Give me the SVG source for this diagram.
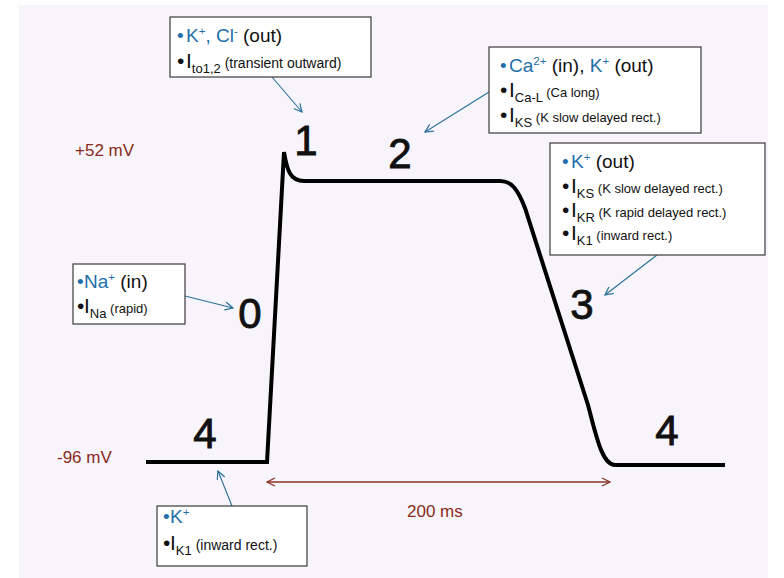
<svg xmlns="http://www.w3.org/2000/svg" width="784" height="578" viewBox="0 0 784 578">
  <defs>
    <style>
      text { font-family: "Liberation Sans", Arial, sans-serif; fill: #111; }
      .box { fill: #ffffff; stroke: #3a3a3a; stroke-width: 1.2; }
      .ion { fill: #1f6fab; }
      .big { font-size: 19px; }
      .cur { font-size: 21px; }
      .sub { font-size: 13px; }
      .sm { font-size: 13px; }
      .smw { font-size: 14px; }
      .sup { font-size: 11.5px; }
      .phase { font-size: 42px; fill: #111; stroke: #111; stroke-width: 0.9; text-anchor: middle; }
      .mv { font-size: 17px; fill: #8a2a1a; }
      .trace { fill: none; stroke: #000; stroke-width: 4; stroke-linejoin: miter; }
      .con { fill: none; stroke: #2b6f98; stroke-width: 1.1; marker-end: url(#ah); }
      .span { fill: none; stroke: #8a3424; stroke-width: 1.3; marker-start: url(#ahr); marker-end: url(#ahr); }
    </style>
    <marker id="ah" viewBox="0 0 10 10" refX="9" refY="5" markerWidth="10" markerHeight="10" markerUnits="userSpaceOnUse" orient="auto">
      <path d="M1,1 L9,5 L1,9" fill="none" stroke="#2b6f98" stroke-width="1.2"/>
    </marker>
    <marker id="ahr" viewBox="0 0 10 10" refX="9" refY="5" markerWidth="10" markerHeight="10" markerUnits="userSpaceOnUse" orient="auto-start-reverse">
      <path d="M1,1 L9,5 L1,9" fill="none" stroke="#8a3424" stroke-width="1.3"/>
    </marker>
  </defs>

  <!-- page -->
  <rect x="0" y="0" width="784" height="578" fill="#ffffff"/>
  <rect x="19" y="5" width="749" height="573" fill="#f7f5fb"/>

  <!-- voltage and time labels -->
  <text class="mv" x="75" y="156">+52 mV</text>
  <text class="mv" x="57" y="463">-96 mV</text>
  <text class="mv" x="407" y="517">200 ms</text>

  <!-- action potential trace -->
  <path class="trace" d="M146,462 L267,462 L284,152 C287,170 290,181 304,181 L500,181 C512,181 518,190 525,208 L588,405 C596,435 602,465 615,465 L725,465"/>

  <!-- phase numbers -->
  <g id="phases">
    <text class="phase" x="306" y="155">1</text>
    <text class="phase" x="400" y="168">2</text>
    <text class="phase" x="250" y="328">0</text>
    <text class="phase" x="582" y="319">3</text>
    <text class="phase" x="205" y="448">4</text>
    <text class="phase" x="667" y="445">4</text>
  </g>

  <!-- connectors -->
  <g id="connectors">
    <path class="con" d="M272,77 L302,112"/>
    <path class="con" d="M489,92 L425,132"/>
    <path class="con" d="M657,255 L605,295"/>
    <path class="con" d="M185,296 L233,308"/>
    <path class="con" d="M232,506 L218,471"/>
    <path class="span" d="M267,482 L610,482"/>
  </g>

  <!-- phase 1 currents -->
  <g id="box-phase1">
    <rect class="box" x="170" y="17" width="201" height="60"/>
    <text class="big" x="177" y="42"><tspan class="ion">•</tspan><tspan class="ion" x="186">K</tspan><tspan class="ion sup" dy="-7">+</tspan><tspan class="ion" dy="7">, Cl</tspan><tspan class="ion sup" dy="-7">-</tspan><tspan dy="7"> (out)</tspan></text>
    <text class="cur" x="177" y="68">•<tspan x="186">I</tspan><tspan class="sub" dy="5">to1,2</tspan><tspan class="smw" dy="-5"> (transient outward)</tspan></text>
  </g>

  <!-- phase 2 currents -->
  <g id="box-phase2">
    <rect class="box" x="489" y="47" width="212" height="86"/>
    <text class="big" x="500" y="72" font-size="18"><tspan class="ion">•</tspan><tspan class="ion" x="509">Ca</tspan><tspan class="ion sup" dy="-7">2+</tspan><tspan dy="7"> (in), </tspan><tspan class="ion">K</tspan><tspan class="ion sup" dy="-7">+</tspan><tspan dy="7"> (out)</tspan></text>
    <text class="cur" x="500" y="97">•<tspan x="509">I</tspan><tspan class="sub" dy="5">Ca-L</tspan><tspan class="sm" dy="-5"> (Ca  long)</tspan></text>
    <text class="cur" x="500" y="122">•<tspan x="509">I</tspan><tspan class="sub" dy="5">KS</tspan><tspan class="sm" dy="-5"> (K slow delayed rect.)</tspan></text>
  </g>

  <!-- phase 3 currents -->
  <g id="box-phase3">
    <rect class="box" x="550" y="143" width="215" height="112"/>
    <text class="big" x="562" y="168"><tspan class="ion">•</tspan><tspan class="ion" x="571">K</tspan><tspan class="ion sup" dy="-7">+</tspan><tspan dy="7"> (out)</tspan></text>
    <text class="cur" x="562" y="193">•<tspan x="571">I</tspan><tspan class="sub" dy="5">KS</tspan><tspan class="sm" dy="-5"> (K slow delayed rect.)</tspan></text>
    <text class="cur" x="562" y="217">•<tspan x="571">I</tspan><tspan class="sub" dy="5">KR</tspan><tspan class="sm" dy="-5"> (K rapid delayed rect.)</tspan></text>
    <text class="cur" x="562" y="240">•<tspan x="571">I</tspan><tspan class="sub" dy="5">K1</tspan><tspan class="sm" dy="-5">  (inward rect.)</tspan></text>
  </g>

  <!-- phase 0 currents -->
  <g id="box-phase0">
    <rect class="box" x="73" y="264" width="112" height="60"/>
    <text class="big" x="77" y="288"><tspan class="ion">•</tspan><tspan class="ion" x="84">Na</tspan><tspan class="ion sup" dy="-7">+</tspan><tspan dy="7">  (in)</tspan></text>
    <text class="cur" x="77" y="313">•<tspan x="84">I</tspan><tspan class="sub" dy="5">Na</tspan><tspan class="sm" dy="-5"> (rapid)</tspan></text>
  </g>

  <!-- phase 4 currents -->
  <g id="box-phase4">
    <rect class="box" x="157" y="506" width="150" height="60"/>
    <text class="big" x="163" y="523"><tspan class="ion">•</tspan><tspan class="ion" x="170">K</tspan><tspan class="ion sup" dy="-7">+</tspan></text>
    <text class="cur" x="163" y="550">•<tspan x="170">I</tspan><tspan class="sub" dy="5">K1</tspan><tspan class="smw" dy="-5">  (inward rect.)</tspan></text>
  </g>
</svg>
